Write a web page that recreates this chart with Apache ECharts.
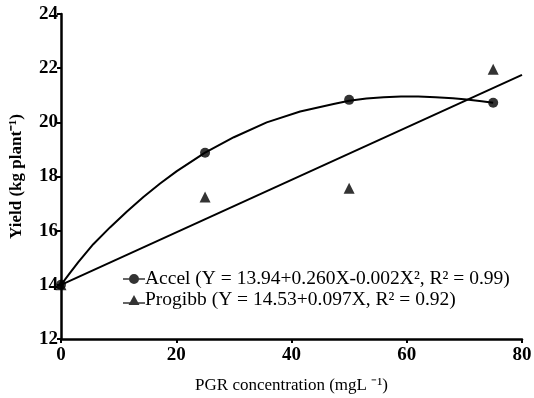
<!DOCTYPE html>
<html>
<head>
<meta charset="utf-8">
<script src="https://cdn.jsdelivr.net/npm/echarts@6/dist/echarts.min.js"></script>
<style>html,body{margin:0;padding:0;background:#fff}#c{width:534px;height:398px}</style>
</head>
<body>
<div id="c"></div>
<script>
const doses = [0, 25, 50, 75];
const accelYield = [14.0, 18.88, 20.83, 20.72];
const progibbYield = [14.0, 17.24, 17.57, 21.96];
const accelCurveX = [0, 1.5, 3, 5.6, 8.5, 11.4, 14.3, 17.2, 20.1, 25, 30, 35.7, 41.5, 47.3, 50, 53, 56, 59, 62, 65, 68, 70.4, 73, 75];
const accelCurveY = [14.0, 14.42, 14.84, 15.5, 16.12, 16.7, 17.24, 17.74, 18.2, 18.88, 19.45, 20.0, 20.4, 20.68, 20.8, 20.88, 20.93, 20.95, 20.95, 20.93, 20.89, 20.84, 20.78, 20.72];
const progibbLineX = [0, 80];
const progibbLineY = [14.0, 21.75];
const xTicks = [0, 20, 40, 60, 80];
const yTicks = [12, 14, 16, 18, 20, 22, 24];
const accelName = 'Accel (Y = 13.94+0.260X-0.002X\u00B2, R\u00B2 = 0.99)';
const progibbName = 'Progibb (Y = 14.53+0.097X, R\u00B2 = 0.92)';

const zip = (a, b) => a.map((v, i) => [v, b[i]]);
const FONT = 'Liberation Serif';

const chart = echarts.init(document.getElementById('c'), null, {renderer: 'canvas'});
chart.setOption({
  backgroundColor: '#fff',
  animation: false,
  textStyle: {fontFamily: FONT, color: '#000'},
  grid: {left: 61, right: 12, top: 14, bottom: 59, containLabel: false, outerBoundsMode: 'none'},
  legend: {
    orient: 'vertical',
    left: 123, top: 269, padding: 0,
    itemWidth: 22, itemHeight: 10, itemGap: 1,
    textStyle: {fontFamily: FONT, fontSize: 19.5, color: '#000', padding: [0, 0, 0, -5]},
    data: [
      {name: accelName, icon: 'path://M0,4.2 L22,4.2 L22,5.8 L0,5.8 Z M6,5 A5,5 0 1,1 16,5 A5,5 0 1,1 6,5 Z'},
      {name: progibbName, icon: 'path://M0,7.2 L22,7.2 L22,8.8 L0,8.8 Z M5.5,10 L11,0 L16.5,10 Z'}
    ],
    itemStyle: {color: '#000'}
  },
  xAxis: {
    type: 'value', min: 0, max: 80, interval: 20,
    name: 'PGR concentration (mgL \u207B\u00B9)', nameLocation: 'middle', nameGap: 38,
    nameTextStyle: {fontFamily: FONT, fontSize: 17, color: '#000'},
    axisLine: {show: true, lineStyle: {color: '#000', width: 2.5}},
    axisTick: {show: true, length: 4, lineStyle: {color: '#000', width: 2}},
    axisLabel: {fontFamily: FONT, fontSize: 19, fontWeight: 'bold', color: '#000', margin: 7},
    splitLine: {show: false}
  },
  yAxis: {
    type: 'value', min: 12, max: 24, interval: 2,
    name: 'Yield (kg plant\u207B\u00B9)', nameLocation: 'middle', nameGap: 36,
    nameTextStyle: {fontFamily: FONT, fontSize: 17, fontWeight: 'bold', color: '#000'},
    axisLine: {show: true, lineStyle: {color: '#000', width: 2.5}},
    axisTick: {show: true, length: 4, lineStyle: {color: '#000', width: 2}},
    axisLabel: {fontFamily: FONT, fontSize: 19, fontWeight: 'bold', color: '#000', margin: 3},
    splitLine: {show: false}
  },
  series: [
    {
      type: 'line', name: 'progibbFit', data: zip(progibbLineX, progibbLineY),
      showSymbol: false, lineStyle: {color: '#000', width: 2}, silent: true, z: 2
    },
    {
      type: 'line', name: 'accelFit', data: zip(accelCurveX, accelCurveY),
      smooth: false, showSymbol: false, lineStyle: {color: '#000', width: 2, join: 'round'}, silent: true, z: 2
    },
    {
      type: 'scatter', name: progibbName, data: zip(doses, progibbYield),
      symbol: 'triangle', symbolSize: [11, 11], itemStyle: {color: '#000'}, z: 3
    },
    {
      type: 'scatter', name: accelName, data: zip(doses, accelYield),
      symbol: 'circle', symbolSize: 10, itemStyle: {color: '#000'}, z: 4
    }
  ]
});
</script>
</body>
</html>
